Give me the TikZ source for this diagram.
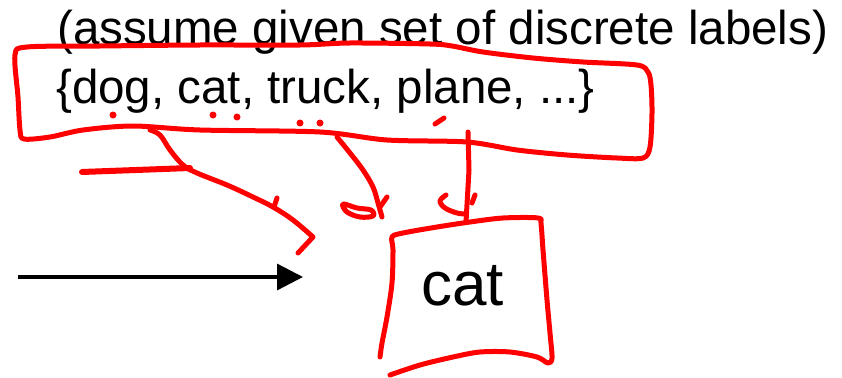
\documentclass[tikz,border=0pt]{standalone}
\usepackage{fontspec}
\setmainfont{Liberation Sans}
\usepackage{tikz}
\usetikzlibrary{arrows.meta}

\begin{document}
\begin{tikzpicture}[x=1pt,y=-1pt,
  scribble/.style={draw=red,line width=5pt,line cap=round,line join=round},
  txt/.style={anchor=base west,inner sep=0pt}]

\useasboundingbox (0,0) rectangle (842,377);

\node[txt,font=\fontsize{47.5}{52}\selectfont] (hint) at (57,45) {(assume given set of discrete labels)};
\node[txt,font=\fontsize{47.5}{52}\selectfont] (labels) at (56,103) {\{dog, cat, truck, plane, ...\}};
\node[txt,font=\fontsize{62}{66}\selectfont] (pred) at (421,305) {cat};

\coordinate (src) at (18,277);
\coordinate (dst) at (303,277);
\draw[line width=3.3pt,-{Triangle[length=26pt,width=26pt]}] (src) -- (dst);

% loop round the set of labels
\draw[scribble] plot[smooth cycle,tension=0.5] coordinates {
  (15,55) (27,47) (100,46) (200,45) (300,45) (350,43) (430,44) (452,46)
  (483,52) (533,58) (583,62) (637,65) (648,72) (651,85) (652,113) (650,147)
  (643,158) (617,158) (567,155) (517,150) (467,142) (387,140) (320,132)
  (200,130) (133,126) (83,130) (50,137) (24,139) (20,130) (18,97)};

% little dots under the words
\foreach \p in {(113,115),(213,115),(237,117),(300,123),(320,123)}
  \fill[red] \p circle (3.5);
\draw[scribble] (435,124) -- (444,118);

% strokes going down
\draw[scribble] plot[smooth,tension=0.6] coordinates {
  (150,130) (160,135) (170,150) (183,165) (197,173) (227,185) (253,197)
  (273,207) (293,220) (313,237)} -- (298,253);
\draw[scribble] (277,198) -- (274,207);
\draw[scribble,line width=6pt] (82,172) -- (190,168);

\draw[scribble] plot[smooth,tension=0.6] coordinates {
  (337,137) (350,153) (363,170) (373,187) (378,203) (382,217)};
\draw[scribble] plot[smooth cycle,tension=0.6] coordinates {
  (343,204) (357,208) (371,210) (373,216) (360,217) (347,212)};
\draw[scribble] (387,197) -- (380,207);

\draw[scribble] (468,132) -- (469,170) -- (466,222);
\draw[scribble] plot[smooth,tension=0.6] coordinates {
  (446,195) (440,201) (445,208) (457,213) (466,214)};
\draw[scribble] (475,195) -- (472,203);

% box round the answer
\draw[scribble] plot[smooth,tension=0.5] coordinates {
  (380,357) (382,343) (387,317) (392,283) (393,250) (392,237) (403,233)
  (437,227) (470,222) (503,218) (538,218) (541,224) (543,250) (547,300)
  (550,333) (552,358) (548,363) (537,357) (510,352) (480,352) (453,357)
  (420,365) (390,375)};

\end{tikzpicture}
\end{document}
